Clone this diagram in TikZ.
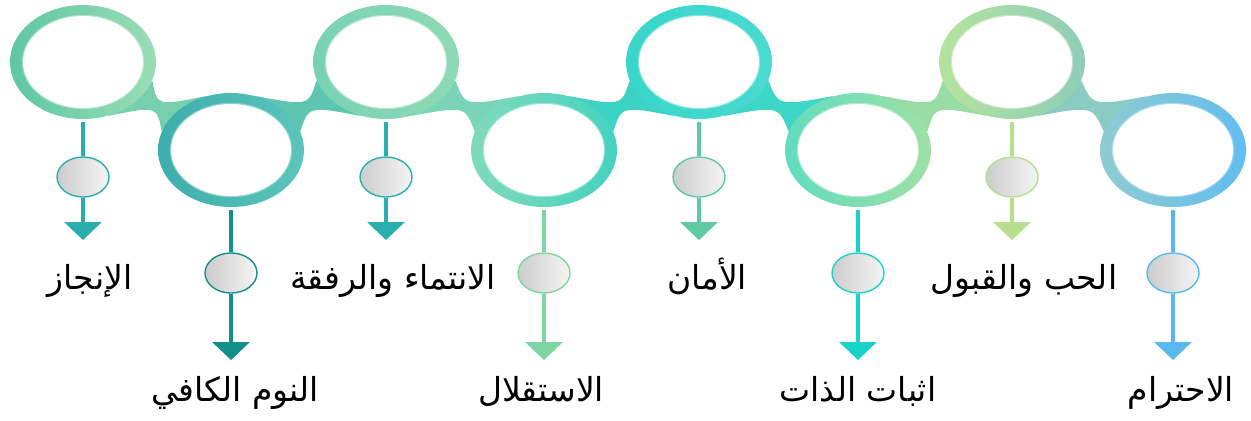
\documentclass[tikz,border=0pt]{standalone}
\usepackage{fontspec}
\newfontfamily\arabicfont[Script=Arabic]{DejaVu Sans}
\TeXXeTstate=1
\usetikzlibrary{shapes.geometric,arrows.meta,calc,backgrounds}

\definecolor{ringAl}{HTML}{5EC7A5}\definecolor{ringAr}{HTML}{9ADDB5}
\definecolor{ringBl}{HTML}{3DAEAD}\definecolor{ringBr}{HTML}{5CC5BA}
\definecolor{ringCl}{HTML}{78D2B5}\definecolor{ringCr}{HTML}{8DDAB5}
\definecolor{ringDl}{HTML}{80DABC}\definecolor{ringDr}{HTML}{45D2C0}
\definecolor{ringEl}{HTML}{38D6CA}\definecolor{ringEr}{HTML}{4ADAD0}
\definecolor{ringFl}{HTML}{62DCBE}\definecolor{ringFr}{HTML}{9EE0A6}
\definecolor{ringGl}{HTML}{B5E39E}\definecolor{ringGr}{HTML}{8FCDB8}
\definecolor{ringHl}{HTML}{8ECCD2}\definecolor{ringHr}{HTML}{62BDF0}

\definecolor{stemA}{HTML}{2AADAE}\definecolor{stemB}{HTML}{138F8A}
\definecolor{stemC}{HTML}{2AAFB0}\definecolor{stemD}{HTML}{80D6A2}
\definecolor{stemE}{HTML}{5EC9A3}\definecolor{stemF}{HTML}{19D3CB}
\definecolor{stemG}{HTML}{B8DF8E}\definecolor{stemH}{HTML}{58B9F0}

\definecolor{bandA}{HTML}{78CFAE}\definecolor{bandB}{HTML}{5EC6B0}
\definecolor{bandC}{HTML}{7AD5B8}\definecolor{bandD}{HTML}{3CD2C4}
\definecolor{bandE}{HTML}{3ED6C6}\definecolor{bandF}{HTML}{9ADDA4}
\definecolor{bandG}{HTML}{8ACBC2}

\begin{document}
\begin{tikzpicture}[x=0.5pt,y=-0.5pt,
    ring/.style={ellipse, minimum width=73pt, minimum height=57pt, inner sep=0pt},
    hole/.style={ellipse, fill=white, draw=white, draw opacity=0.35, line width=1.2pt,
                 minimum width=60pt, minimum height=46pt, inner sep=0pt},
    knob/.style={ellipse, minimum width=26pt, minimum height=20pt, inner sep=0pt,
                 line width=0.7pt, left color=gray!40, right color=gray!8},
    stem/.style={line width=2pt},
    lab/.style={font=\arabicfont\fontsize{16.5}{20}\selectfont, inner sep=0pt, anchor=base},
    >={Triangle[width=18.5pt,length=9pt]}]
  \useasboundingbox (0,0) rectangle (1251,420);

  % rings
  \foreach \i/\x/\y/\lft/\rgt in {1/83/62/ringAl/ringAr, 2/231/150/ringBl/ringBr,
                                  3/386/62/ringCl/ringCr, 4/544/150/ringDl/ringDr,
                                  5/699/62/ringEl/ringEr, 6/858/150/ringFl/ringFr,
                                  7/1012/62/ringGl/ringGr, 8/1173/150/ringHl/ringHr} {
    \node[ring, left color=\lft, right color=\rgt] (r\i) at (\x,\y) {};
    \node[hole] (h\i) at (\x,\y) {};
  }

  % webs between the rings (behind them)
  \begin{pgfonlayer}{background}
    \foreach \t/\b/\col in {1/2/bandA, 3/4/bandC, 5/6/bandE, 7/8/bandG}
      \fill[\col] (r\t.-15) .. controls ($(r\t)!0.5!(r\b)$) and ($(r\t)!0.5!(r\b)$) .. (r\b.115)
        -- (r\b.165) .. controls ($(r\t)!0.5!(r\b)$) and ($(r\t)!0.5!(r\b)$) .. (r\t.-65) -- cycle;
    \foreach \t/\b/\col in {3/2/bandB, 5/4/bandD, 7/6/bandF}
      \fill[\col] (r\t.195) .. controls ($(r\t)!0.5!(r\b)$) and ($(r\t)!0.5!(r\b)$) .. (r\b.65)
        -- (r\b.15) .. controls ($(r\t)!0.5!(r\b)$) and ($(r\t)!0.5!(r\b)$) .. (r\t.245) -- cycle;
  \end{pgfonlayer}

  % stems, knobs, arrows and labels
  \foreach \i/\x/\ky/\ty/\lx/\ly/\col/\txt in {
      1/83/177/240/90/289/stemA/الإنجاز,
      2/231/273/360/235/401/stemB/النوم الكافي,
      3/386/177/240/393/289/stemC/الانتماء والرفقة,
      4/544/273/360/541/401/stemD/الاستقلال,
      5/699/177/240/707/289/stemE/الأمان,
      6/858/273/360/858/401/stemF/اثبات الذات,
      7/1012/177/240/1024/289/stemG/الحب والقبول,
      8/1173/273/360/1181/401/stemH/الاحترام} {
    \node[knob, draw=\col] (k\i) at (\x,\ky) {};
    \coordinate (e\i) at (\x,\ty);
    \node[lab] (l\i) at (\lx,\ly) {\beginR\txt\endR};
    \draw[stem, draw=\col, shorten <=1.5pt] (r\i.south) -- (k\i.north);
    \draw[stem, draw=\col, ->] (k\i.south) -- (e\i);
  }
\end{tikzpicture}
\end{document}
